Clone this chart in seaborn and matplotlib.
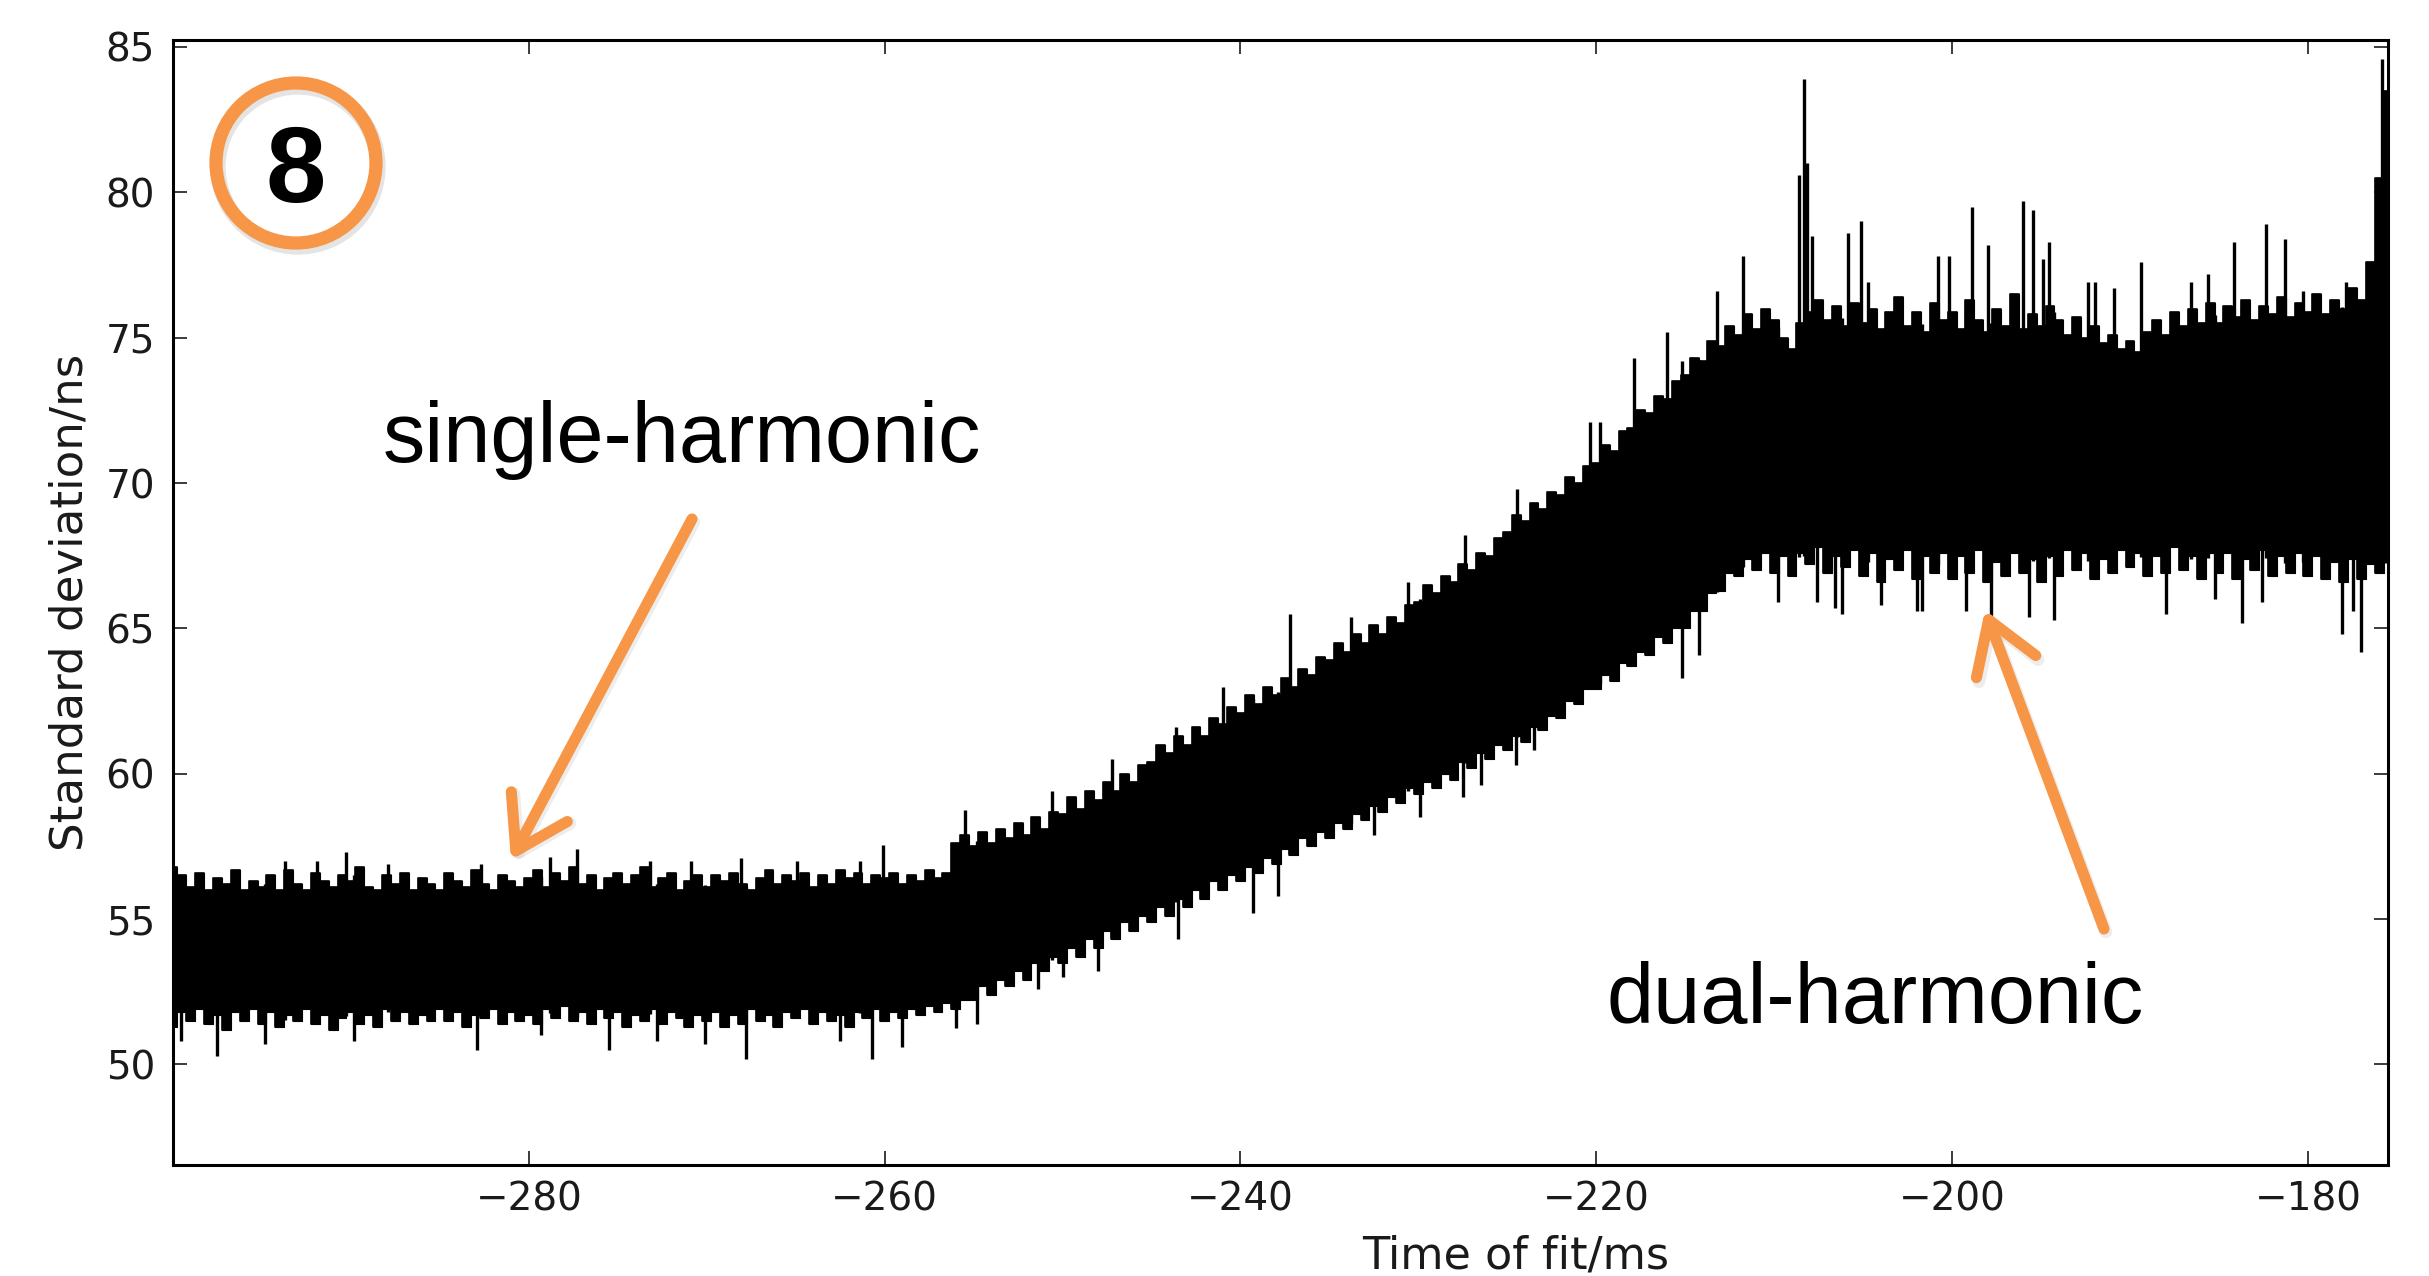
import numpy as np
import matplotlib
matplotlib.use("Agg")
import matplotlib.pyplot as plt
import seaborn as sns
from matplotlib.patches import Ellipse
from matplotlib.text import Annotation

# ---------------- data ----------------
time_start_ms = -300.0
time_step_ms = 0.5

upper_ns = [
    56.8, 56.5, 56.1, 56.6, 56.0, 56.4, 56.2, 56.7, 56.0, 56.3,
    56.1, 56.5, 56.0, 56.7, 56.2, 56.0, 56.6, 56.3, 56.1, 56.5,
    56.3, 56.8, 56.1, 56.0, 56.5, 56.2, 56.6, 56.0, 56.4, 56.2,
    56.0, 56.6, 56.3, 56.1, 56.7, 56.2, 56.0, 56.5, 56.3, 56.1,
    56.4, 56.7, 56.1, 56.6, 56.3, 56.8, 56.2, 56.5, 56.0, 56.4,
    56.6, 56.2, 56.5, 56.8, 56.1, 56.4, 56.6, 56.0, 56.3, 56.5,
    56.1, 56.5, 56.3, 56.6, 56.2, 56.0, 56.4, 56.7, 56.2, 56.5,
    56.3, 56.6, 56.1, 56.5, 56.2, 56.7, 56.4, 56.6, 56.2, 56.5,
    56.4, 56.6, 56.2, 56.5, 56.3, 56.7, 56.4, 56.6, 57.6, 57.9,
    57.5, 58.0, 57.6, 58.1, 57.8, 58.3, 57.9, 58.5, 58.1, 58.7,
    58.6, 59.2, 58.8, 59.4, 59.1, 59.7, 59.4, 60.0, 59.7, 60.3,
    60.4, 61.0, 60.7, 61.3, 61.0, 61.6, 61.3, 61.9, 61.7, 62.3,
    62.1, 62.7, 62.4, 63.0, 62.7, 63.3, 63.0, 63.6, 63.4, 64.0,
    63.9, 64.5, 64.2, 64.8, 64.5, 65.1, 64.8, 65.4, 65.2, 65.8,
    65.9, 66.5, 66.2, 66.8, 66.6, 67.2, 67.0, 67.6, 67.5, 68.1,
    68.3, 68.9, 68.7, 69.3, 69.1, 69.7, 69.6, 70.2, 70.0, 70.6,
    70.7, 71.3, 71.1, 71.8, 71.9, 72.5, 72.4, 73.0, 72.9, 73.5,
    73.7, 74.3, 74.2, 74.9, 74.7, 75.4, 75.1, 75.8, 75.3, 76.0,
    75.6, 75.0, 74.6, 75.5, 75.9, 76.3, 75.6, 76.1, 75.4, 76.2,
    75.5, 76.0, 75.3, 75.9, 76.4, 75.4, 75.9, 75.2, 76.2, 75.6,
    75.9, 75.3, 76.3, 75.6, 75.2, 76.0, 75.4, 76.5, 75.3, 75.8,
    75.4, 76.1, 75.6, 75.1, 75.7, 75.0, 75.4, 74.8, 75.1, 74.6,
    74.9, 74.5, 75.2, 75.6, 75.1, 75.9, 75.4, 76.0, 75.5, 76.2,
    75.5, 76.1, 75.7, 76.3, 75.6, 76.1, 75.8, 76.4, 75.7, 76.2,
    75.9, 76.5, 75.8, 76.3, 76.0, 76.7, 76.3, 77.6, 80.5, 83.5,
]

lower_ns = [
    51.3, 51.8, 51.5, 51.9, 51.4, 51.7, 51.2, 51.8, 51.5, 51.9,
    51.4, 51.8, 51.3, 51.7, 51.5, 51.9, 51.4, 51.7, 51.2, 51.6,
    51.8, 51.4, 51.7, 51.3, 51.9, 51.5, 51.8, 51.4, 51.7, 51.5,
    51.9, 51.5, 51.8, 51.3, 51.7, 51.6, 51.9, 51.4, 51.8, 51.5,
    51.7, 51.4, 51.9, 51.6, 52.0, 51.5, 51.8, 51.4, 51.9, 51.6,
    51.8, 51.3, 51.7, 51.5, 51.9, 51.4, 51.8, 51.6, 51.3, 51.7,
    51.5, 51.8, 51.3, 51.7, 51.4, 51.9, 51.5, 51.7, 51.3, 51.8,
    51.6, 51.9, 51.4, 51.8, 51.5, 51.7, 51.3, 51.8, 51.6, 51.9,
    51.5, 51.8, 51.6, 51.9, 51.7, 52.0, 51.8, 52.1, 51.9, 52.2,
    52.2, 52.7, 52.4, 52.9, 52.7, 53.2, 52.9, 53.5, 53.2, 53.7,
    53.5, 54.0, 53.7, 54.3, 54.0, 54.6, 54.3, 54.9, 54.6, 55.1,
    54.9, 55.4, 55.1, 55.7, 55.4, 56.0, 55.7, 56.3, 56.0, 56.5,
    56.3, 56.8, 56.6, 57.1, 56.9, 57.4, 57.2, 57.8, 57.5, 58.0,
    57.8, 58.3, 58.1, 58.6, 58.4, 58.9, 58.7, 59.2, 59.0, 59.5,
    59.3, 59.7, 59.5, 60.0, 59.8, 60.4, 60.2, 60.7, 60.5, 61.0,
    60.8, 61.3, 61.1, 61.6, 61.5, 62.0, 61.9, 62.5, 62.4, 62.9,
    62.9, 63.4, 63.2, 63.8, 63.7, 64.2, 64.1, 64.7, 64.5, 65.0,
    65.0, 65.6, 65.6, 66.2, 66.3, 66.9, 66.8, 67.4, 67.0, 67.6,
    66.9, 67.5, 66.8, 67.6, 67.2, 67.8, 66.9, 67.5, 67.1, 67.7,
    66.8, 67.6, 66.6, 67.4, 67.0, 67.7, 66.7, 67.5, 66.9, 67.6,
    66.7, 67.5, 66.9, 67.7, 66.6, 67.3, 66.8, 67.6, 66.9, 67.4,
    66.6, 67.5, 66.8, 67.7, 67.0, 67.6, 66.7, 67.4, 66.9, 67.7,
    67.1, 67.6, 66.8, 67.5, 66.9, 67.8, 67.0, 67.5, 66.7, 67.6,
    66.9, 67.6, 66.7, 67.4, 67.0, 67.7, 66.8, 67.5, 66.9, 67.6,
    66.8, 67.5, 66.7, 67.3, 66.6, 67.4, 66.7, 67.2, 66.9, 67.4,
]

# isolated upward spikes (time, peak value)
spike_up_t = [-293.7, -291.9, -290.3, -287.9, -282.7, -278.8, -277.3, -273.2,
              -270.9, -268.1, -264.9, -261.4, -260.1, -255.5, -250.6, -247.2,
              -243.6, -241.0, -237.2, -233.8, -230.6, -227.4, -224.45, -220.35,
              -219.8, -217.9, -216.0, -215.2, -213.2, -211.75, -208.6, -208.35,
              -208.15, -207.9, -205.85, -205.1, -204.7, -200.8, -200.2, -198.9,
              -198.0, -196.0, -195.45, -194.9, -194.55, -192.35, -191.95, -190.9,
              -189.4, -186.6, -185.6, -184.15, -182.35, -181.3, -180.3, -177.85,
              -176.5, -175.85, -175.65]
spike_up_v = [57.0, 57.0, 57.3, 56.9, 56.9, 57.15, 57.4, 57.0,
              57.0, 57.1, 57.0, 57.0, 57.55, 58.75, 59.4, 60.5,
              61.6, 63.0, 65.5, 65.4, 66.6, 68.2, 69.8, 72.1,
              72.1, 74.3, 75.2, 74.2, 76.6, 77.8, 80.6, 83.9,
              81.0, 78.5, 78.6, 79.0, 76.9, 77.8, 77.8, 79.5,
              78.2, 79.7, 79.4, 77.7, 78.3, 76.9, 76.9, 76.7,
              77.6, 76.9, 77.2, 78.3, 78.9, 78.4, 76.6, 76.9,
              77.4, 84.6, 83.2]

# isolated downward spikes (time, lowest value)
spike_dn_t = [-299.55, -297.5, -294.85, -289.8, -282.9, -279.3, -275.5, -272.8,
              -270.1, -267.8, -262.5, -260.7, -259.0, -256.0, -254.8, -251.4,
              -250.0, -248.0, -243.5, -239.3, -237.9, -232.5, -229.9, -227.5,
              -226.5, -224.5, -223.5, -215.2, -214.2, -209.8, -207.6, -206.6,
              -206.2, -204.0, -202.0, -201.7, -199.2, -197.8, -195.7, -194.3,
              -188.0, -185.2, -183.7, -182.6, -178.1, -177.45, -177.0]
spike_dn_v = [50.8, 50.3, 50.7, 50.8, 50.5, 51.0, 50.5, 50.8,
              50.7, 50.2, 50.8, 50.2, 50.6, 51.25, 51.4, 52.6,
              53.0, 53.2, 54.3, 55.2, 55.8, 57.9, 58.5, 59.2,
              59.6, 60.3, 60.8, 63.3, 64.1, 65.9, 65.9, 65.7,
              65.5, 65.8, 65.6, 65.6, 65.6, 65.4, 65.4, 65.3,
              65.5, 66.0, 65.2, 65.9, 64.8, 65.6, 64.2]

x_ticks = [-280, -260, -240, -220, -200, -180]
y_ticks = [50, 55, 60, 65, 70, 75, 80, 85]

x_label = "Time of fit/ms"
y_label = "Standard deviation/ns"
note_single = "single-harmonic"
note_dual = "dual-harmonic"
badge = "8"

# ---------------- style ----------------
sns.set_style("ticks", {"xtick.direction": "in", "ytick.direction": "in"})
plt.rcParams["font.family"] = ["DejaVu Sans"]
ORANGE = "#F79646"
INK = "#1a1a1a"

W, H = 2429, 1276
fig = plt.figure(figsize=(W / 100, H / 100), dpi=100)
fig.patch.set_facecolor("white")
ax = fig.add_axes([173 / W, 1 - 1165 / H, (2388 - 173) / W, (1165 - 40) / H])

time_ms = time_start_ms + time_step_ms * np.arange(len(upper_ns))
upper = np.array(upper_ns)
lower = np.array(lower_ns)

ax.fill_between(time_ms, lower, upper, step="mid", color="black", lw=0.8)
sns.lineplot(x=time_ms, y=upper, ax=ax, color="black", lw=1.2,
             drawstyle="steps-mid", estimator=None, sort=False)
sns.lineplot(x=time_ms, y=lower, ax=ax, color="black", lw=1.2,
             drawstyle="steps-mid", estimator=None, sort=False)

up_t = np.array(spike_up_t)
dn_t = np.array(spike_dn_t)
ax.vlines(up_t, np.interp(up_t, time_ms, lower), spike_up_v, color="black", lw=2.4)
ax.vlines(dn_t, spike_dn_v, np.interp(dn_t, time_ms, upper), color="black", lw=2.4)

ax.set_xlim(-300.0, -175.5)
ax.set_ylim(46.54, 85.24)
ax.set_xticks(x_ticks)
ax.set_yticks(y_ticks)
ax.tick_params(axis="both", which="major", direction="in", length=10, width=1.2,
               labelsize=28, colors=INK, top=True, right=True)
ax.tick_params(axis="x", pad=11)
ax.tick_params(axis="y", pad=13)
for s in ax.spines.values():
    s.set_visible(True)
    s.set_linewidth(2.2)
    s.set_color("black")

ax.set_xlabel(x_label, fontsize=32, color=INK)
ax.set_ylabel(y_label, fontsize=32.5, color=INK)
ax.xaxis.set_label_coords(0.606, -0.062)
ax.yaxis.set_label_coords(-0.037, 0.5)

# ---------------- annotations (figure pixel positions) ----------------
def fx(px):
    return px / W

def fy(py):
    return 1 - py / H

fig.text(fx(383), fy(462), note_single, fontsize=61, family="Liberation Sans",
         color="black", ha="left", va="baseline")
fig.text(fx(1606), fy(1023), note_dual, fontsize=61, family="Liberation Sans",
         color="black", ha="left", va="baseline")

arrow_style = dict(arrowstyle="->,head_length=0.6,head_width=0.38", mutation_scale=60,
                   color=ORANGE, lw=8, shrinkA=0, shrinkB=0,
                   capstyle="round", joinstyle="round")
shadow_style = dict(arrow_style, color="#b0b0b0", alpha=0.22, lw=9)
for tip, tail in [((511, 860), (692, 519)), ((1985, 610), (2104, 929))]:
    fig.add_artist(Annotation(
        "", xy=(fx(tip[0] + 2), fy(tip[1] + 3)), xycoords="figure fraction",
        xytext=(fx(tail[0] + 2), fy(tail[1] + 3)), textcoords="figure fraction",
        arrowprops=shadow_style))
    fig.add_artist(Annotation(
        "", xy=(fx(tip[0]), fy(tip[1])), xycoords="figure fraction",
        xytext=(fx(tail[0]), fy(tail[1])), textcoords="figure fraction",
        arrowprops=arrow_style))

cx, cy, r = 296, 163, 80
fig.add_artist(Ellipse((fx(cx + 2), fy(cy + 4)), 2 * r / W, 2 * r / H,
                       transform=fig.transFigure, fill=False,
                       ec="#a0a0a0", lw=11, alpha=0.28))
fig.add_artist(Ellipse((fx(cx), fy(cy)), 2 * r / W, 2 * r / H,
                       transform=fig.transFigure, fill=False, ec=ORANGE, lw=9.5))
fig.text(fx(cx), fy(202), badge, fontsize=78, fontweight="bold",
         family="Liberation Sans", color="black", ha="center", va="baseline")

fig.savefig("out.png", dpi=100, facecolor="white")
